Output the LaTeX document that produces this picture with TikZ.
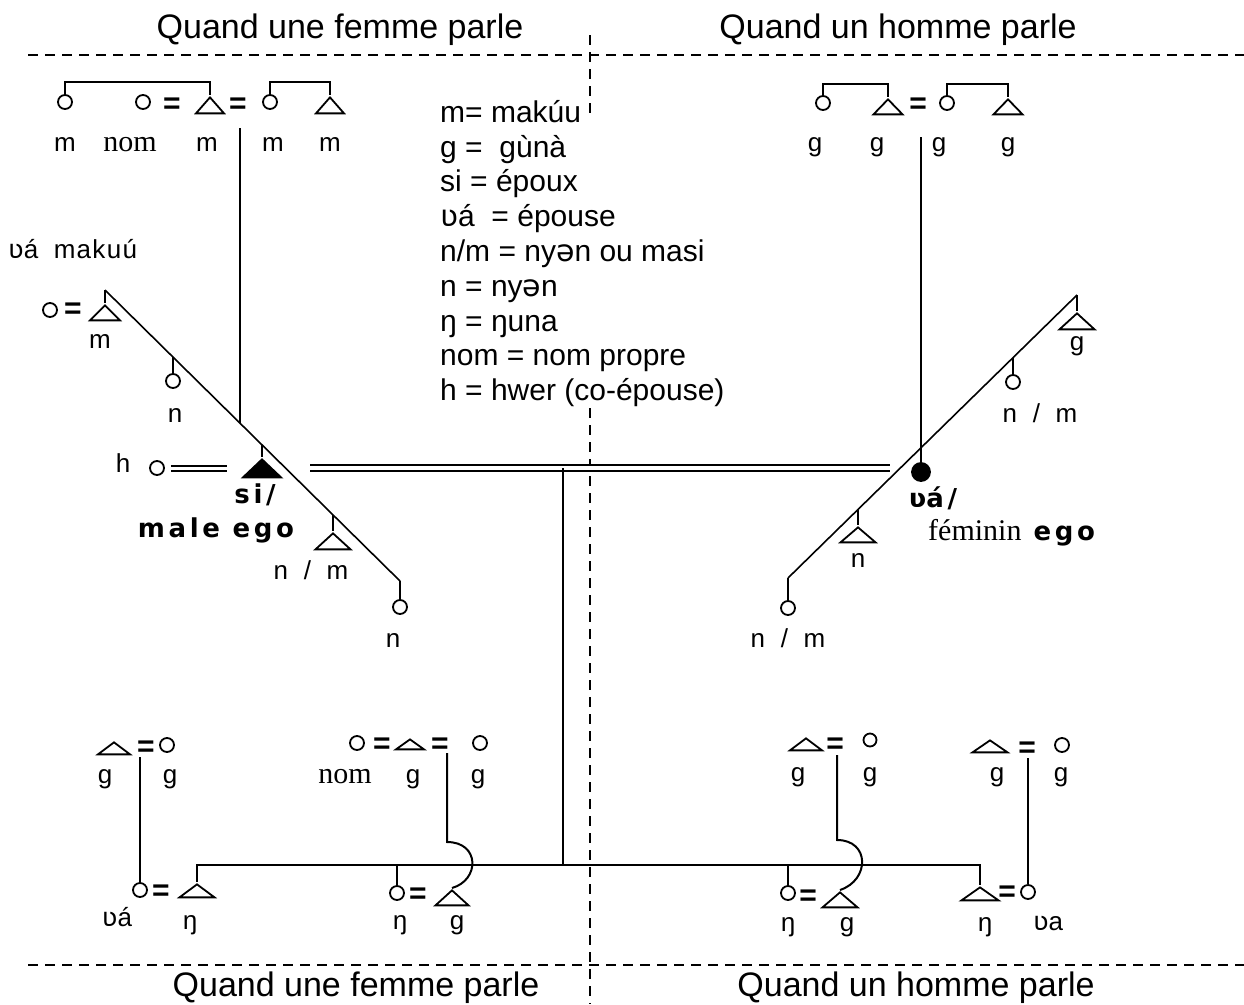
\documentclass[tikz,border=0pt]{standalone}
\usepackage{fontspec}
\setmainfont{Liberation Sans}
\newfontfamily\ipafont{DejaVu Sans}
\newfontfamily\romfont{Liberation Serif}
\newfontfamily\labfont[LetterSpace=5]{Liberation Sans}
\newfontfamily\egofont[LetterSpace=14]{DejaVu Sans}
\usepackage{tikz}
\usetikzlibrary{shapes.geometric}
\newcommand{\vhook}{{\ipafont ʋ}}
\newcommand{\schwa}{{\ipafont ə}}
\newcommand{\nsm}{n\hspace{.6em}/\hspace{.6em}m}
\tikzset{
	fem/.style={circle, draw, line width=1.8pt, minimum size=14pt, inner sep=0pt},
	mal/.style={isosceles triangle, isosceles triangle stretches, shape border rotate=90,
		draw, line width=1.8pt, minimum width=30pt, minimum height=16pt, inner sep=0pt, anchor=apex},
	eqs/.style={inner sep=0pt, font=\fontsize{30}{30}\selectfont\bfseries},
	lab/.style={inner sep=0pt, anchor=base, font=\labfont\fontsize{26}{26}\selectfont},
	rom/.style={inner sep=0pt, anchor=base, font=\romfont\fontsize{30}{30}\selectfont},
	ego/.style={inner sep=0pt, anchor=base, font=\egofont\bfseries\fontsize{26}{26}\selectfont},
	head/.style={inner sep=0pt, anchor=base, font=\fontsize{34}{34}\selectfont},
	legend/.style={inner sep=0pt, align=left, font=\fontsize{30}{34.8}\selectfont},
	link/.style={line width=2pt},
	slope/.style={line width=1.6pt},
	wed/.style={double, double distance=3pt, line width=2pt},
	sep/.style={line width=2pt, dash pattern=on 10pt off 7pt},
}
\begin{document}
\begin{tikzpicture}[x=1pt, y=-1pt]
\useasboundingbox (0,0) rectangle (1244,1004);
\node[head] (hTL) at (340,38) {Quand une femme parle};
\node[head] (hTR) at (898,38) {Quand un homme parle};
\node[head] (hBL) at (356,996) {Quand une femme parle};
\node[head] (hBR) at (916,996) {Quand un homme parle};
\draw[sep] (28,55) -- (1244,55);
\draw[sep] (28,965) -- (1244,965);
\draw[sep] (590,35) -- (590,118);
\draw[sep] (590,408) -- (590,1004);
\node[legend, anchor=north west] (key) at (440,100) {m= makúu\\ g =\ \ gùnà\\ si = époux\\ \vhook á\ \ = épouse\\ n/m = ny\schwa n ou masi\\ n = ny\schwa n\\ ŋ = ŋuna\\ nom = nom propre\\ h = hwer (co-épouse)};
\node[fem] (tw1) at (65,102) {};
\node[fem] (tw2) at (143,102) {};
\node[eqs] (te1) at (172,106) {=};
\node[mal, minimum width=28pt] (tm1) at (210,95) {};
\node[eqs] (te2) at (238,106) {=};
\node[fem] (tw3) at (270,102) {};
\node[mal, minimum width=28pt] (tm2) at (330,95) {};
\draw[link] (tw1.north) -- ++(0,-12) -| (tm1.apex);
\draw[link] (tw3.north) -- ++(0,-12) -| (tm2.apex);
\node[lab] (tl1) at (65,151) {m};
\node[rom] (tl2) at (130,151) {nom};
\node[lab] (tl3) at (207,151) {m};
\node[lab] (tl4) at (273,151) {m};
\node[lab] (tl5) at (330,151) {m};
\coordinate (tlv) at (240,128);
\coordinate (lx) at (240,423);
\draw[link] (tlv) -- (lx);
\node[lab, anchor=base west] (vmak) at (8,258) {\vhook á\hspace{.6em}makuú};
\coordinate (ldA) at (105,290);
\coordinate (ldB) at (400,581);
\draw[slope] (ldA) -- (ldB);
\node[fem] (lw0) at (50,310) {};
\node[eqs] (le0) at (73,311) {=};
\node[mal, minimum height=15pt] (lm1) at (105,303) {};
\draw[link] (ldA) -- (lm1.apex);
\node[lab] (ll1) at (100,348) {m};
\node[fem] (lw1) at (173,381) {};
\draw[link] (173,357) -- (lw1.north);
\node[lab] (ll2) at (175,422) {n};
\node[mal, fill=black, minimum width=38pt, minimum height=18pt] (sego) at (262,457) {};
\draw[link] (262,445) -- (sego.apex);
\node[lab] (lh) at (123,472) {h};
\node[fem] (hw) at (157,468) {};
\coordinate (hx) at (227,468);
\draw[wed] (hw.east) ++(6,0) -- (hx);
\node[ego] (si) at (255,503) {si/};
\node[ego] (male) at (216,537) {male ego};
\node[mal, minimum width=35pt] (lm2) at (333,531) {};
\draw[link] (333,515) -- (lm2.apex);
\node[lab] (ll3) at (311,579) {\nsm};
\node[fem] (lw2) at (400,607) {};
\draw[link] (ldB) -- (lw2.north);
\node[lab] (ll4) at (393,647) {n};
\coordinate (mL) at (310,468);
\coordinate (mR) at (890,468);
\draw[wed, double distance=4pt] (mL) -- (mR);
\coordinate (cT) at (563,468);
\coordinate (cB) at (563,865);
\draw[link] (cT) -- (cB);
\node[fem] (rw1) at (823,103) {};
\node[mal, minimum width=29pt, minimum height=15pt] (rm1) at (888,97) {};
\node[eqs] (re1) at (918,106) {=};
\node[fem] (rw2) at (947,103) {};
\node[mal, minimum width=29pt, minimum height=15pt] (rm2) at (1008,97) {};
\draw[link] (rw1.north) -- ++(0,-11) -| (rm1.apex);
\draw[link] (rw2.north) -- ++(0,-11) -| (rm2.apex);
\node[lab] (rl1) at (815,151) {g};
\node[lab] (rl2) at (877,151) {g};
\node[lab] (rl3) at (939,151) {g};
\node[lab] (rl4) at (1008,151) {g};
\coordinate (rdA) at (1077,295);
\coordinate (rdB) at (788,578);
\draw[slope] (rdA) -- (rdB);
\node[mal, minimum width=35pt] (rm3) at (1077,311) {};
\draw[link] (rdA) -- (rm3.apex);
\node[lab] (rl5) at (1077,350) {g};
\node[fem] (rw3) at (1013,382) {};
\draw[link] (1013,358) -- (rw3.north);
\node[lab] (rl6) at (1040,422) {\nsm};
\node[fem, fill=black, minimum size=18pt] (fego) at (921,472) {};
\coordinate (rtv) at (921,137);
\draw[link] (rtv) -- (fego.north);
\node[ego] (va) at (933,507) {\vhook á/};
\node[inner sep=0pt, anchor=base west] (fem) at (928,540) {{\romfont\fontsize{30}{30}\selectfont féminin}\hspace{12pt}{\egofont\bfseries\fontsize{26}{26}\selectfont ego}};
\node[mal, minimum width=35pt, minimum height=15pt] (rm4) at (858,525) {};
\draw[link] (858,509) -- (rm4.apex);
\node[lab] (rl7) at (858,567) {n};
\node[fem] (rw4) at (788,608) {};
\draw[link] (rdB) -- (rw4.north);
\node[lab] (rl8) at (788,647) {\nsm};
\node[mal, minimum width=32pt, minimum height=12pt] (am1) at (114,740) {};
\node[eqs] (ae1) at (146,749) {=};
\node[fem] (aw1) at (167,745) {};
\node[lab] (al1) at (105,783) {g};
\node[lab] (al2) at (170,783) {g};
\node[fem] (aw2) at (140,890) {};
\node[eqs] (ae2) at (161,893) {=};
\node[mal, minimum width=35pt, minimum height=13pt] (am2) at (197,882) {};
\coordinate (av) at (140,757);
\draw[link] (av) -- (aw2.north);
\node[lab] (al3) at (117,926) {\vhook á};
\node[lab] (al4) at (190,929) {ŋ};
\node[fem] (bw1) at (357,743) {};
\node[eqs] (be1) at (382,746) {=};
\node[mal, minimum width=28pt, minimum height=10pt] (bm1) at (410,737) {};
\node[eqs] (be2) at (440,746) {=};
\node[fem] (bw2) at (480,743) {};
\node[rom] (bl1) at (345,783) {nom};
\node[lab] (bl2) at (413,783) {g};
\node[lab] (bl3) at (478,783) {g};
\node[fem] (bw3) at (397,893) {};
\node[eqs] (be3) at (418,896) {=};
\node[mal, minimum width=33pt, minimum height=15pt] (bm2) at (452,888) {};
\node[lab] (bl4) at (400,929) {ŋ};
\node[lab] (bl5) at (457,929) {g};
\coordinate (bk) at (447,753);
\draw[link] (bk) -- (447,842) .. controls (480,842) and (480,880) .. (bm2.apex);
\node[mal, minimum width=32pt, minimum height=12pt] (cm1) at (806,736) {};
\node[eqs] (ce1) at (835,746) {=};
\node[fem, minimum size=13pt] (cw1) at (870,740) {};
\node[lab] (cl1) at (798,781) {g};
\node[lab] (cl2) at (870,781) {g};
\node[fem] (cw2) at (788,893) {};
\node[eqs] (ce2) at (808,898) {=};
\node[mal, minimum width=35pt, minimum height=15pt] (cm2) at (840,890) {};
\node[lab] (cl3) at (788,931) {ŋ};
\node[lab] (cl4) at (847,931) {g};
\coordinate (ck) at (837,755);
\draw[link] (ck) -- (837,840) .. controls (870,840) and (870,880) .. (cm2.apex);
\node[mal, minimum width=35pt, minimum height=12pt] (dm1) at (990,738) {};
\node[eqs] (de1) at (1027,750) {=};
\node[fem] (dw1) at (1062,745) {};
\node[lab] (dl1) at (997,781) {g};
\node[lab] (dl2) at (1061,781) {g};
\node[mal, minimum width=37pt, minimum height=13pt] (dm2) at (980,885) {};
\node[eqs] (de2) at (1007,894) {=};
\node[fem] (dw2) at (1028,892) {};
\coordinate (dv) at (1028,758);
\draw[link] (dv) -- (dw2.north);
\node[lab] (dl3) at (985,931) {ŋ};
\node[lab] (dl4) at (1048,930) {\vhook a};
\draw[link] (am2.apex) -- ++(0,-17) -| (dm2.apex);
\draw[link] (bw3.north) -- (bw3.north |- cB);
\draw[link] (cw2.north) -- (cw2.north |- cB);
\end{tikzpicture}
\end{document}
